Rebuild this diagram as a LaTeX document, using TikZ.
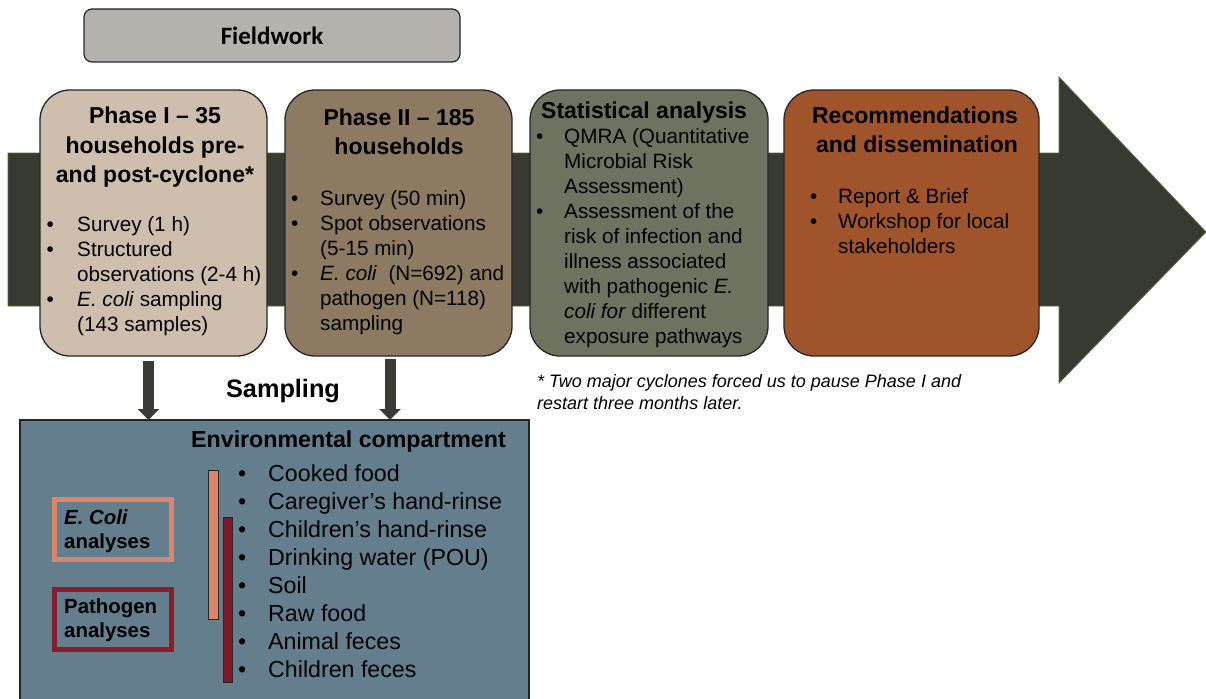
\documentclass[tikz,border=0pt]{standalone}
\usepackage{fontspec}
\setmainfont{Liberation Sans}
\newfontfamily\fwfont{Carlito}
\usetikzlibrary{arrows.meta}

\definecolor{bandcol}{HTML}{373A30}
\definecolor{bandedge}{HTML}{52703E}
\definecolor{fieldgray}{HTML}{B5B2AD}
\definecolor{phaseone}{HTML}{CDBEAE}
\definecolor{phasetwo}{HTML}{8C7A63}
\definecolor{statcol}{HTML}{6E7361}
\definecolor{reccol}{HTML}{A0542B}
\definecolor{envcol}{HTML}{657E8D}
\definecolor{ecolicol}{HTML}{D9876B}
\definecolor{pathcol}{HTML}{861E2E}
\definecolor{pathbar}{HTML}{7A1A28}
\definecolor{arrowcol}{HTML}{3A3B33}
\definecolor{edgecol}{HTML}{262626}

\begin{document}
\begin{tikzpicture}[x=1pt,y=-1pt,
  phasebox/.style={draw=edgecol, line width=1.3pt, rounded corners=30pt, minimum width=#1, minimum height=266pt, inner sep=0pt, outer sep=0pt, anchor=north west},
  titletxt/.style={anchor=base, inner sep=0pt, font=\bfseries\fontsize{23}{28}\selectfont},
  bodytxt/.style={anchor=base west, inner sep=0pt, font=\fontsize{20.7}{25}\selectfont},
  bigtxt/.style={anchor=base west, inner sep=0pt, font=\fontsize{23.2}{28}\selectfont},
  labtxt/.style={anchor=base west, inner sep=0pt, font=\bfseries\fontsize{20.4}{24}\selectfont},
  notetxt/.style={anchor=base west, inner sep=0pt, font=\itshape\fontsize{18}{22}\selectfont},
  anbox/.style={draw=#1, line width=5pt, minimum width=117pt, minimum height=60pt, inner sep=0pt, outer sep=0pt},
  barbox/.style={draw=edgecol, line width=0.8pt, fill=#1},
  fatarrow/.style={draw=arrowcol, line width=11pt, -{Triangle[width=21pt,length=11pt]}}
]
\useasboundingbox (0,0) rectangle (1206,698);

% big timeline arrow
\fill[bandcol, draw=bandedge, line width=0.8pt] (8,153) -- (1059,153) -- (1059,77) -- (1206,232) -- (1059,383) -- (1059,306) -- (8,306) -- cycle;

% Fieldwork
\node[draw=edgecol, line width=1.2pt, fill=fieldgray, rounded corners=8pt, minimum width=376pt, minimum height=53pt, inner sep=0pt, font=\fwfont\bfseries\fontsize{25}{30}\selectfont] (field) at (272,35.5) {Fieldwork};

% Phase boxes
\node[phasebox=227pt, fill=phaseone] (p1) at (40,90) {};
\node[phasebox=227pt, fill=phasetwo] (p2) at (285,90) {};
\node[phasebox=238pt, fill=statcol] (st) at (530,90) {};
\node[phasebox=255pt, fill=reccol] (rc) at (784,90) {};

% Phase I text
\node[titletxt] (p1t1) at (155,124) {Phase I – 35};
\node[titletxt] (p1t2) at (155,153) {households pre-};
\node[titletxt] (p1t3) at (155,182) {and post-cyclone*};
\foreach \b/\t [count=\i] in {1/{Survey (1 h)}, 1/{Structured}, 0/{observations (2-4 h)}, 1/{\textit{E. coli} sampling}, 0/{(143 samples)}} {
  \node[bodytxt] (p1l\i) at (77,206+25*\i) {\t};
  \ifnum\b=1 \node[bodytxt] (p1b\i) at (46.5,206+25*\i) {•};\fi
}

% Phase II text
\node[titletxt] (p2t1) at (399,125) {Phase II – 185};
\node[titletxt] (p2t2) at (399,154) {households};
\foreach \b/\t [count=\i] in {1/{Survey (50 min)}, 1/{Spot observations}, 0/{(5-15 min)}, 1/{\textit{E. coli}\ \ (N=692) and}, 0/{pathogen (N=118)}, 0/{sampling}} {
  \node[bodytxt] (p2l\i) at (320,180+25*\i) {\t};
  \ifnum\b=1 \node[bodytxt] (p2b\i) at (291,180+25*\i) {•};\fi
}

% Statistical analysis text
\node[anchor=base west, inner sep=0pt, font=\bfseries\fontsize{23}{28}\selectfont] (stt) at (541,118) {Statistical analysis};
\foreach \b/\t [count=\i] in {1/{QMRA (Quantitative}, 0/{Microbial Risk}, 0/{Assessment)}, 1/{Assessment of the}, 0/{risk of infection and}, 0/{illness associated}, 0/{with pathogenic \textit{E.}}, 0/{\textit{coli for} different}, 0/{exposure pathways}} {
  \node[bodytxt] (stl\i) at (564,118+25*\i) {\t};
  \ifnum\b=1 \node[bodytxt] (stb\i) at (536,118+25*\i) {•};\fi
}

% Recommendations text
\node[titletxt] (rct1) at (915,124) {Recommendations};
\node[titletxt] (rct2) at (917,152) {and dissemination};
\foreach \b/\t [count=\i] in {1/{Report \& Brief}, 1/{Workshop for local}, 0/{stakeholders}} {
  \node[bodytxt] (rcl\i) at (838,178+25*\i) {\t};
  \ifnum\b=1 \node[bodytxt] (rcb\i) at (810,178+25*\i) {•};\fi
}

% footnote
\node[notetxt] (fn1) at (537,387) {* Two major cyclones forced us to pause Phase I and};
\node[notetxt] (fn2) at (537,409) {restart three months later.};

% Environmental compartment box
\node[draw=edgecol, line width=1.2pt, fill=envcol, minimum width=509pt, minimum height=282pt, inner sep=0pt, outer sep=0pt, anchor=north west] (env) at (20,420) {};

% Sampling arrows
\coordinate (d1s) at (148.5,361);
\coordinate (d2s) at (390,359);
\draw[fatarrow] (d1s) -- (d1s |- env.north);
\draw[fatarrow] (d2s) -- (d2s |- env.north);
\node[anchor=base, inner sep=0pt, font=\bfseries\fontsize{25.3}{30}\selectfont] (samp) at (283,397) {Sampling};

\node[anchor=base west, inner sep=0pt, font=\bfseries\fontsize{23.2}{28}\selectfont] (envt) at (191,447) {Environmental compartment};

% bars
\draw[barbox=ecolicol] (208,470) rectangle (218,619);
\draw[barbox=pathbar] (223,517) rectangle (232,682);

% list
\foreach \t [count=\i] in {{Cooked food}, {Caregiver’s hand-rinse}, {Children’s hand-rinse}, {Drinking water (POU)}, {Soil}, {Raw food}, {Animal feces}, {Children feces}} {
  \node[bigtxt] (envl\i) at (268,453+28*\i) {\t};
  \node[bigtxt] (envb\i) at (238,453+28*\i) {•};
}

% analysis boxes
\node[anbox=ecolicol] (ecbox) at (113,529.5) {};
\node[labtxt] (ec1) at (64,524) {\textit{E. Coli}};
\node[labtxt] (ec2) at (64,548) {analyses};
\node[anbox=pathcol] (pabox) at (113,619.5) {};
\node[labtxt] (pa1) at (64,613) {Pathogen};
\node[labtxt] (pa2) at (64,637) {analyses};
\end{tikzpicture}
\end{document}
